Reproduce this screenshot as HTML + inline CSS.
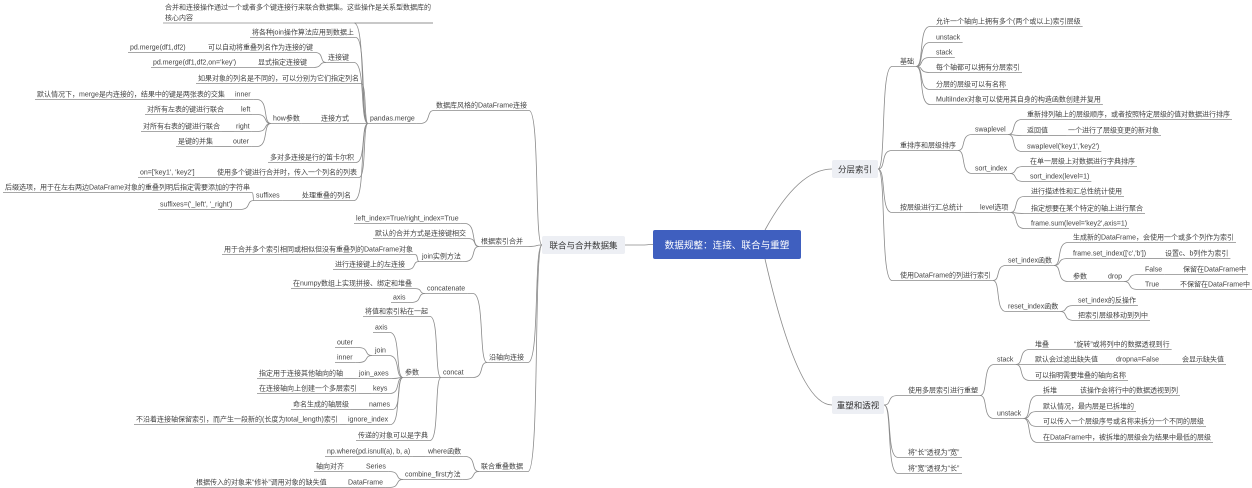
<!DOCTYPE html>
<html><head><meta charset="utf-8"><style>
html,body{margin:0;padding:0;background:#fff}
svg{display:block}
text{font-family:"Liberation Sans","Noto Sans CJK SC",sans-serif;font-size:7px;fill:#444}
</style></head><body>
<svg id="s" width="1252" height="488" viewBox="0 0 1252 488" xmlns="http://www.w3.org/2000/svg">
<g id="lines" fill="none" stroke="#8a8a8a" stroke-width="0.8"></g>
<g id="root"><rect x="653" y="230" width="148" height="29" rx="2" fill="#3f5fbf"/><text x="727" y="248.5" text-anchor="middle" style="font-size:9.6px;fill:#fff">数据规整：连接、联合与重塑</text></g>
<g id="L"><rect x="542" y="236" width="83" height="18" rx="2" fill="#edeff4"/><text x="583.5" y="248.5" text-anchor="middle" style="font-size:8.5px;fill:#333">联合与合并数据集</text></g>
<g id="R1"><rect x="832" y="160" width="46" height="18" rx="2" fill="#edeff4"/><text x="855" y="172.5" text-anchor="middle" style="font-size:8.5px;fill:#333">分层索引</text></g>
<g id="R2"><rect x="832" y="396" width="52" height="18" rx="2" fill="#edeff4"/><text x="858" y="408.5" text-anchor="middle" style="font-size:8.5px;fill:#333">重塑和透视</text></g>

<text id="a1" x="436" y="107.5">数据库风格的DataFrame连接</text>
<text id="a2" x="370" y="120.5">pandas.merge</text>
<text id="a3" x="165" y="9.5">合并和连接操作通过一个或者多个键连接行来联合数据集。这些操作是关系型数据库的<tspan x="165" y="20">核心内容</tspan></text>
<text id="a4" x="252" y="34.5">将各种join操作算法应用到数据上</text>
<text id="a5" x="328" y="59.5">连接键</text>
<text id="a6" x="208" y="49.5">可以自动将重叠列名作为连接的键</text>
<text id="a7" x="130" y="49.5">pd.merge(df1,df2)</text>
<text id="a8" x="258" y="64.5">显式指定连接键</text>
<text id="a9" x="153" y="64.5">pd.merge(df1,df2,on='key')</text>
<text id="a10" x="198" y="80.5">如果对象的列名是不同的，可以分别为它们指定列名</text>
<text id="a11" x="321" y="120.5">连接方式</text>
<text id="a12" x="273" y="120.5">how参数</text>
<text id="a13" x="235" y="96.5">inner</text>
<text id="a14" x="37" y="96.5">默认情况下，merge是内连接的，结果中的键是两张表的交集</text>
<text id="a15" x="241" y="111.5">left</text>
<text id="a16" x="147" y="111.5">对所有左表的键进行联合</text>
<text id="a17" x="236" y="128.5">right</text>
<text id="a18" x="143" y="128.5">对所有右表的键进行联合</text>
<text id="a19" x="233" y="143.5">outer</text>
<text id="a20" x="178" y="143.5">是键的并集</text>
<text id="a21" x="270" y="159.5">多对多连接是行的笛卡尔积</text>
<text id="a22" x="217" y="174.5">使用多个键进行合并时，传入一个列名的列表</text>
<text id="a23" x="140" y="174.5">on=['key1', 'key2']</text>
<text id="a24" x="302" y="197.5">处理重叠的列名</text>
<text id="a25" x="256" y="197.5">suffixes</text>
<text id="a26" x="5" y="189.5">后缀选项，用于在左右两边DataFrame对象的重叠列明后指定需要添加的字符串</text>
<text id="a27" x="160" y="206.5">suffixes=('_left', '_right')</text>

<text id="b1" x="481" y="243.5">根据索引合并</text>
<text id="b2" x="356" y="220.5">left_index=True/right_index=True</text>
<text id="b3" x="375" y="235.5">默认的合并方式是连接键相交</text>
<text id="b4" x="422" y="258.5">join实例方法</text>
<text id="b5" x="224" y="251.5">用于合并多个索引相同或相似但没有重叠列的DataFrame对象</text>
<text id="b6" x="335" y="266.5">进行连接键上的左连接</text>

<text id="c1" x="489" y="359.5">沿轴向连接</text>
<text id="c2" x="427" y="290.5">concatenate</text>
<text id="c3" x="293" y="285.5">在numpy数组上实现拼接、绑定和堆叠</text>
<text id="c4" x="393" y="299.5">axis</text>
<text id="c5" x="443" y="374.5">concat</text>
<text id="c6" x="365" y="313.5">将值和索引粘在一起</text>
<text id="c7" x="405" y="374.5">参数</text>
<text id="c8" x="358" y="437.5">传递的对象可以是字典</text>
<text id="c9" x="375" y="329.5">axis</text>
<text id="c10" x="375" y="352.5">join</text>
<text id="c11" x="337" y="344.5">outer</text>
<text id="c12" x="337" y="359.5">inner</text>
<text id="c13" x="359" y="375.5">join_axes</text>
<text id="c14" x="259" y="375.5">指定用于连接其他轴向的轴</text>
<text id="c15" x="373" y="390.5">keys</text>
<text id="c16" x="259" y="390.5">在连接轴向上创建一个多层索引</text>
<text id="c17" x="369" y="406.5">names</text>
<text id="c18" x="293" y="406.5">命名生成的轴层级</text>
<text id="c19" x="348" y="421.5">ignore_index</text>
<text id="c20" x="136" y="421.5">不沿着连接轴保留索引，而产生一段新的(长度为total_length)索引</text>

<text id="d1" x="481" y="468.5">联合重叠数据</text>
<text id="d2" x="428" y="453.5">where函数</text>
<text id="d3" x="327" y="453.5">np.where(pd.isnull(a), b, a)</text>
<text id="d4" x="405" y="476.5">combine_first方法</text>
<text id="d5" x="366" y="468.5">Series</text>
<text id="d6" x="316" y="468.5">轴向对齐</text>
<text id="d7" x="348" y="484.5">DataFrame</text>
<text id="d8" x="196" y="484.5">根据传入的对象来“修补”调用对象的缺失值</text>

<text id="e1" x="900" y="63.5">基础</text>
<text id="e2" x="936" y="23.5">允许一个轴向上拥有多个(两个或以上)索引层级</text>
<text id="e3" x="936" y="39.5">unstack</text>
<text id="e4" x="936" y="54.5">stack</text>
<text id="e5" x="936" y="69.5">每个轴都可以拥有分层索引</text>
<text id="e6" x="936" y="86.5">分层的层级可以有名称</text>
<text id="e7" x="936" y="101.5">MultiIndex对象可以使用其自身的构造函数创建并复用</text>
<text id="f1" x="900" y="147.5">重排序和层级排序</text>
<text id="f2" x="975" y="131.5">swaplevel</text>
<text id="f3" x="1027" y="116.5">重新排列轴上的层级顺序，或者按照特定层级的值对数据进行排序</text>
<text id="f4" x="1027" y="132.5">返回值</text>
<text id="f5" x="1068" y="132.5">一个进行了层级变更的新对象</text>
<text id="f6" x="1027" y="148.5">swaplevel('key1','key2')</text>
<text id="f7" x="975" y="170.5">sort_index</text>
<text id="f8" x="1030" y="163.5">在单一层级上对数据进行字典排序</text>
<text id="f9" x="1030" y="178.5">sort_index(level=1)</text>
<text id="g1" x="900" y="209.5">按层级进行汇总统计</text>
<text id="g2" x="980" y="209.5">level选项</text>
<text id="g3" x="1031" y="193.5">进行描述性和汇总性统计使用</text>
<text id="g4" x="1031" y="210.5">指定想要在某个特定的轴上进行聚合</text>
<text id="g5" x="1031" y="225.5">frame.sum(level='key2',axis=1)</text>
<text id="h1" x="900" y="277.5">使用DataFrame的列进行索引</text>
<text id="h2" x="1008" y="262.5">set_index函数</text>
<text id="h3" x="1073" y="239.5">生成新的DataFrame，会使用一个或多个列作为索引</text>
<text id="h4" x="1073" y="255.5">frame.set_index(['c','b'])</text>
<text id="h5" x="1165" y="255.5">设置c、b列作为索引</text>
<text id="h6" x="1073" y="278.5">参数</text>
<text id="h7" x="1108" y="278.5">drop</text>
<text id="h8" x="1145" y="271.5">False</text>
<text id="h9" x="1183" y="271.5">保留在DataFrame中</text>
<text id="h10" x="1145" y="286.5">True</text>
<text id="h11" x="1180" y="286.5">不保留在DataFrame中</text>
<text id="h12" x="1008" y="308.5">reset_index函数</text>
<text id="h13" x="1078" y="302.5">set_index的反操作</text>
<text id="h14" x="1078" y="317.5">把索引层级移动到列中</text>

<text id="k1" x="908" y="392.5">使用多层索引进行重塑</text>
<text id="k2" x="997" y="361.5">stack</text>
<text id="k3" x="1035" y="346.5">堆叠</text>
<text id="k4" x="1074" y="346.5">“旋转”或将列中的数据透视到行</text>
<text id="k5" x="1035" y="361.5">默认会过滤出缺失值</text>
<text id="k6" x="1116" y="361.5">dropna=False</text>
<text id="k7" x="1182" y="361.5">会显示缺失值</text>
<text id="k8" x="1035" y="377.5">可以指明需要堆叠的轴向名称</text>
<text id="k9" x="997" y="415.5">unstack</text>
<text id="k10" x="1043" y="392.5">拆堆</text>
<text id="k11" x="1080" y="392.5">该操作会将行中的数据透视到列</text>
<text id="k12" x="1043" y="408.5">默认情况，最内层是已拆堆的</text>
<text id="k13" x="1043" y="423.5">可以传入一个层级序号或名称来拆分一个不同的层级</text>
<text id="k14" x="1043" y="439.5">在DataFrame中，被拆堆的层级会为结果中最低的层级</text>
<text id="k15" x="908" y="454.5">将“长”透视为“宽”</text>
<text id="k16" x="908" y="470.5">将“宽”透视为“长”</text>
</svg>
<script>
var E=[["root","L"],["root","R1"],["root","R2"],
["L","a1"],["a1","a2"],["a2","a3"],["a2","a4"],["a2","a5"],["a5","a6"],["a6","a7"],["a5","a8"],["a8","a9"],["a2","a10"],["a2","a11"],["a11","a12"],["a12","a13"],["a13","a14"],["a12","a15"],["a15","a16"],["a12","a17"],["a17","a18"],["a12","a19"],["a19","a20"],["a2","a21"],["a2","a22"],["a22","a23"],["a2","a24"],["a24","a25"],["a25","a26"],["a25","a27"],
["L","b1"],["b1","b2"],["b1","b3"],["b1","b4"],["b4","b5"],["b4","b6"],
["L","c1"],["c1","c2"],["c2","c3"],["c2","c4"],["c1","c5"],["c5","c6"],["c5","c7"],["c5","c8"],["c7","c9"],["c7","c10"],["c10","c11"],["c10","c12"],["c7","c13"],["c13","c14"],["c7","c15"],["c15","c16"],["c7","c17"],["c17","c18"],["c7","c19"],["c19","c20"],
["L","d1"],["d1","d2"],["d2","d3"],["d1","d4"],["d4","d5"],["d5","d6"],["d4","d7"],["d7","d8"],
["R1","e1"],["e1","e2"],["e1","e3"],["e1","e4"],["e1","e5"],["e1","e6"],["e1","e7"],
["R1","f1"],["f1","f2"],["f2","f3"],["f2","f4"],["f4","f5"],["f2","f6"],["f1","f7"],["f7","f8"],["f7","f9"],
["R1","g1"],["g1","g2"],["g2","g3"],["g2","g4"],["g2","g5"],
["R1","h1"],["h1","h2"],["h2","h3"],["h2","h4"],["h4","h5"],["h2","h6"],["h6","h7"],["h7","h8"],["h8","h9"],["h7","h10"],["h10","h11"],["h1","h12"],["h12","h13"],["h12","h14"],
["R2","k1"],["k1","k2"],["k2","k3"],["k3","k4"],["k2","k5"],["k5","k6"],["k6","k7"],["k2","k8"],["k1","k9"],["k9","k10"],["k10","k11"],["k9","k12"],["k9","k13"],["k9","k14"],["R2","k15"],["R2","k16"]];
var BOX={root:1,L:1,R1:1,R2:1};
var G=document.getElementById("lines"),NS="http://www.w3.org/2000/svg";
function info(id){var b=document.getElementById(id).getBBox();
 if(BOX[id])return{l:b.x,r:b.x+b.width,y:b.y+b.height/2,cx:b.x+b.width/2};
 return{l:b.x-2,r:b.x+b.width+2,y:b.y+b.height+1,cx:b.x+b.width/2};}
function P(d){var p=document.createElementNS(NS,"path");p.setAttribute("d",d);G.appendChild(p);}
document.querySelectorAll("text[id]").forEach(function(t){var i=info(t.id);P("M"+i.l+" "+i.y+"H"+i.r);});
E.forEach(function(e){var p=info(e[0]),c=info(e[1]),x1,x2,d;
 if(e[0]=="root"&&e[1]!="L"){var y0=e[1]=="R1"?230:259;P("M765 "+y0+"C775 "+(y0+(c.y-y0)*0.3)+" 800 "+c.y+" "+c.l+" "+c.y);return;}
 if(c.cx<p.cx){x1=p.l;x2=c.r;d=-1}else{x1=p.r;x2=c.l;d=1}
 var k=Math.min(14,Math.abs(x2-x1));
 P("M"+x1+" "+p.y+"C"+(x1+d*k*0.6)+" "+p.y+" "+(x1+d*k*0.15)+" "+c.y+" "+(x1+d*k)+" "+c.y+"L"+x2+" "+c.y);});
</script>
</body></html>
